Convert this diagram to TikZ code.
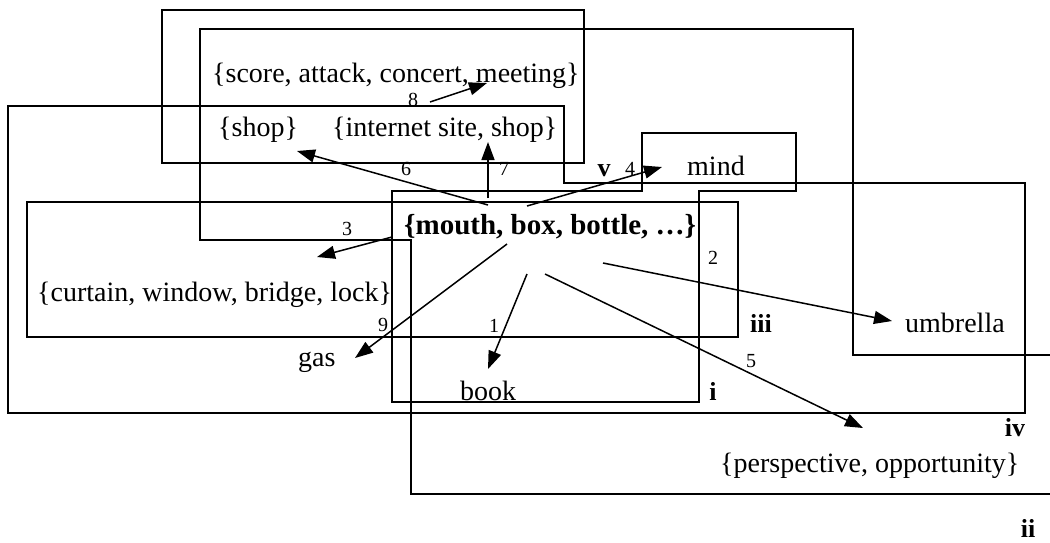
\documentclass[tikz,border=0pt]{standalone}
\usepackage{fontspec}
\setmainfont{Liberation Serif}
\usetikzlibrary{arrows.meta}
\begin{document}
\begin{tikzpicture}[x=1pt,y=-1pt,
  region/.style={line width=1.8pt, line join=miter},
  conn/.style={line width=1.5pt, -{Triangle[length=18pt,width=13pt]}},
  word/.style={anchor=base west, inner sep=0pt, font=\fontsize{28}{30}\selectfont},
  key/.style={anchor=base west, inner sep=0pt, font=\fontsize{29}{32}\selectfont\bfseries},
  num/.style={inner sep=0pt, font=\fontsize{20}{22}\selectfont},
  roman/.style={anchor=base, inner sep=0pt, font=\fontsize{26}{28}\selectfont\bfseries}]
\useasboundingbox (0,0) rectangle (1050,542);

% regions
\draw[region] (162,10) rectangle (584,163);
\draw[region] (1050,355) -- (853,355) -- (853,29) -- (200,29) -- (200,240) -- (411,240) -- (411,494) -- (1050,494);
\draw[region] (8,106) -- (564,106) -- (564,183) -- (1025,183) -- (1025,413) -- (8,413) -- cycle;
\draw[region] (27,202) rectangle (738,337);
\draw[region] (392,191) -- (642,191) -- (642,133) -- (796,133) -- (796,191) -- (699,191) -- (699,402) -- (392,402) -- cycle;

% texts
\node[word] (score) at (212,82) {\{score, attack, concert, meeting\}};
\node[word] (shop) at (218,136) {\{shop\}};
\node[word] (inet) at (332,136) {\{internet site, shop\}};
\node[word] (mind) at (687,175) {mind};
\node[key] (mouth) at (404,234) {\{mouth, box, bottle, …\}};
\node[word] (curtain) at (37,301) {\{curtain, window, bridge, lock\}};
\node[word] (umbrella) at (905,332) {umbrella};
\node[word] (gas) at (298,366) {gas};
\node[word] (book) at (460,400) {book};
\node[word] (persp) at (720,472) {\{perspective, opportunity\}};

% region labels
\node[roman] (ri) at (713,400) {i};
\node[roman] (rii) at (1028,537) {ii};
\node[roman] (riii) at (761,332) {iii};
\node[roman] (riv) at (1015,436) {iv};
\node[roman] (rv) at (604,176) {v};

% connector end points
\coordinate (s1) at (527,274);  \coordinate (t1) at (488,369);
\coordinate (s2) at (603,263);  \coordinate (t2) at (892,321);
\coordinate (s3) at (392,237);  \coordinate (t3) at (317,257);
\coordinate (s4) at (527,206);  \coordinate (t4) at (662,167);
\coordinate (s5) at (545,274);  \coordinate (t5) at (863,428);
\coordinate (s6) at (488,205);  \coordinate (t6) at (297,151);
\coordinate (s7) at (488,198);  \coordinate (t7) at (488,142);
\coordinate (s8) at (430,102);  \coordinate (t8) at (487,83);
\coordinate (s9) at (507,244);  \coordinate (t9) at (355,358);

\draw[conn] (s1) -- (t1);
\draw[conn] (s2) -- (t2);
\draw[conn] (s3) -- (t3);
\draw[conn] (s4) -- (t4);
\draw[conn] (s5) -- (t5);
\draw[conn] (s6) -- (t6);
\draw[conn] (s7) -- (t7);
\draw[conn] (s8) -- (t8);
\draw[conn] (s9) -- (t9);

% connector numbers
\node[num] (n1) at (494,326) {1};
\node[num] (n2) at (713,258) {2};
\node[num] (n3) at (347,229) {3};
\node[num] (n4) at (630,169) {4};
\node[num] (n5) at (751,361) {5};
\node[num] (n6) at (406,169) {6};
\node[num] (n7) at (504,169) {7};
\node[num] (n8) at (413,100) {8};
\node[num] (n9) at (383,325) {9};
\end{tikzpicture}
\end{document}
